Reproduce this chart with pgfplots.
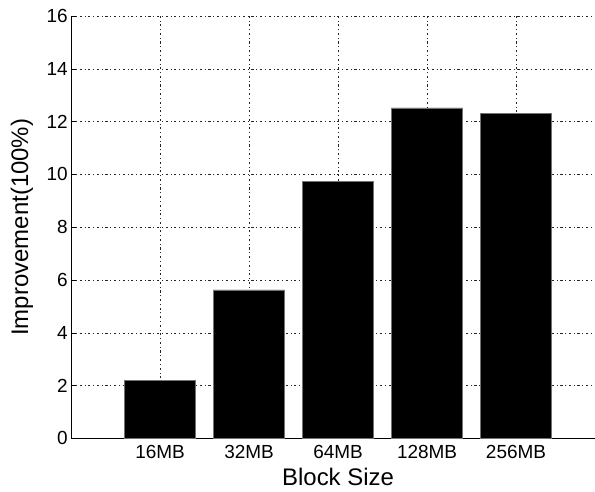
\documentclass[border=0pt]{standalone}
\usepackage{pgfplots}
\pgfplotsset{compat=1.18}
\usepackage{fontspec}
\setmainfont{Liberation Sans}
\begin{document}
\begin{tikzpicture}
\useasboundingbox (-71bp,-53.3bp) rectangle (523bp,437.7bp);
\begin{axis}[
  at={(0,0)}, anchor=south west,
  scale only axis,
  width=533bp, height=421.7bp,
  xmin=0, xmax=6, ymin=0, ymax=16,
  axis x line*=bottom, axis y line*=left,
  axis line style={line width=0.8pt, -},
  xtick={1,2,3,4,5},
  xticklabels={16MB,32MB,64MB,128MB,256MB},
  ytick={0,2,...,16},
  tick align=inside,
  major tick length=5bp,
  tick style={black, line width=0.6pt},
  grid=major,
  major grid style={black!85, line width=0.6pt, dash pattern=on 2.2pt off 2.8pt on 0.8pt off 2.8pt},
  /pgf/number format/assume math mode=true,
  ticklabel style={font=\fontsize{19}{22}\selectfont},
  xticklabel style={yshift=-3bp},
  xlabel={Block Size},
  ylabel={Improvement(100\%)},
  every axis x label/.style={at={(axis description cs:0.5,-0.090)}, anchor=center, font=\fontsize{24}{28}\selectfont},
  every axis y label/.style={at={(axis description cs:-0.092,0.5)}, rotate=90, anchor=center, font=\fontsize{24}{28}\selectfont},
]
\addplot[ybar, bar width=0.8, fill=black, draw=black!55, line width=0.5pt]
  coordinates {(1,2.19) (2,5.63) (3,9.73) (4,12.52) (5,12.32)};
\end{axis}
\end{tikzpicture}
\end{document}
